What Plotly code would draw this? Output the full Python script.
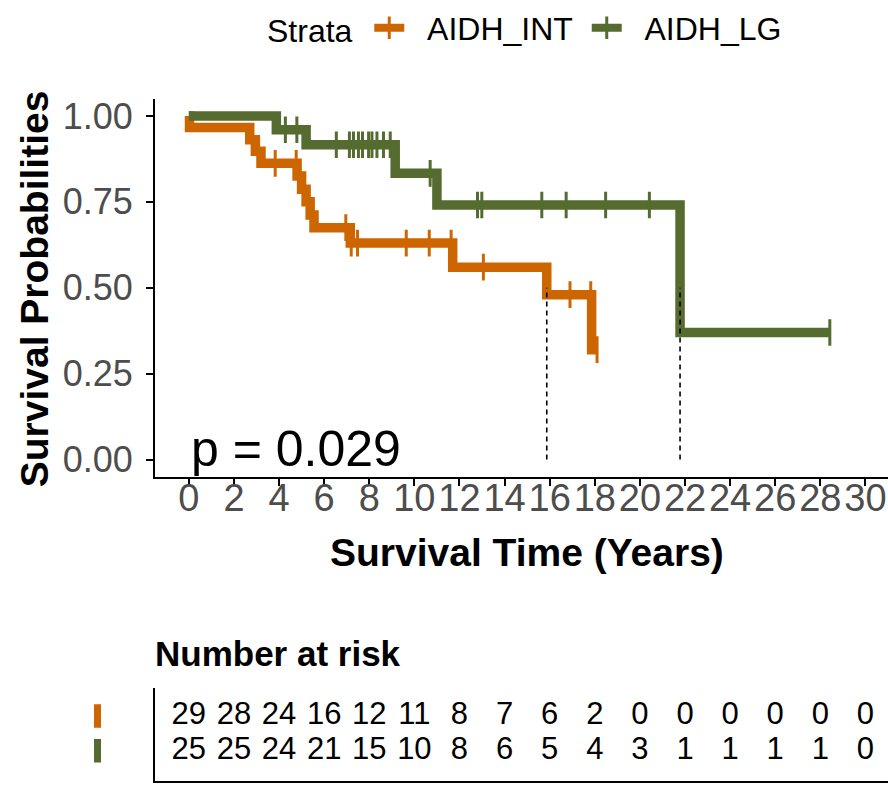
import plotly.graph_objects as go

W, H = 888, 785
FONT = "Liberation Sans, Arial, sans-serif"

# ---------------- data ----------------
strata = ["AIDH_INT", "AIDH_LG"]
colors = ["#CD6600", "#556B2F"]

# AIDH_INT : event times and survival after each event, censor times
int_event_times = [0.03, 2.70, 2.95, 3.20, 4.80, 5.00, 5.20, 5.38, 5.55, 7.16, 11.70, 15.87, 17.86]
int_event_surv = [0.966, 0.931, 0.897, 0.862, 0.825, 0.787, 0.750, 0.712, 0.675, 0.630, 0.560, 0.480, 0.320]
int_censor_times = [3.83, 4.76, 6.96, 7.20, 7.48, 9.64, 10.66, 11.63, 13.06, 16.90, 17.82, 18.10]

# AIDH_LG
lg_event_times = [3.88, 5.20, 9.15, 11.00, 21.78]
lg_event_surv = [0.960, 0.916, 0.833, 0.741, 0.370]
lg_censor_times = [4.28, 4.79, 6.54, 7.12, 7.30, 7.52, 7.70, 7.97, 8.12, 8.34, 8.63, 8.93,
                   10.70, 12.80, 12.99, 15.65, 16.73, 18.48, 20.42, 28.42]

# number at risk table
risk_times = [0, 2, 4, 6, 8, 10, 12, 14, 16, 18, 20, 22, 24, 26, 28, 30]
int_risk = [29, 28, 24, 16, 12, 11, 8, 7, 6, 2, 0, 0, 0, 0, 0, 0]
lg_risk = [25, 25, 24, 21, 15, 10, 8, 6, 5, 4, 3, 1, 1, 1, 1, 0]

x_ticks = list(range(0, 31, 2))
y_ticks = [0.0, 0.25, 0.5, 0.75, 1.0]
p_text = "p = 0.029"

groups = [
    (strata[0], colors[0], int_event_times, int_event_surv, int_censor_times, int_risk, 1),
    (strata[1], colors[1], lg_event_times, lg_event_surv, lg_censor_times, lg_risk, 0),
]


def surv_at(t, ev_t, ev_s):
    s = 1.0
    for et, es in zip(ev_t, ev_s):
        if et <= t:
            s = es
    return s


def px_x(p):
    return p / W


def px_y(p):
    return 1 - p / H


fig = go.Figure()

# step curves
for name, col, et, es, ct, rk, row in groups:
    end_t = max(ct + et)
    xs = [0.0] + et + [end_t]
    ys = [1.0] + es + [es[-1]]
    fig.add_trace(go.Scatter(x=xs, y=ys, mode="lines", line=dict(color=col, width=9.5, shape="hv"),
                             showlegend=False, hoverinfo="skip"))

# censor marks
for name, col, et, es, ct, rk, row in groups:
    fig.add_trace(go.Scatter(x=ct, y=[surv_at(t, et, es) for t in ct], mode="markers",
                             marker=dict(symbol="line-ns", size=19, color=col,
                                         line=dict(color=col, width=3)),
                             showlegend=False, hoverinfo="skip"))

# median lines
for name, col, et, es, ct, rk, row in groups:
    med = next(t for t, s in zip(et, es) if s <= 0.5)
    fig.add_trace(go.Scatter(x=[med, med], y=[0, 0.5], mode="lines",
                             line=dict(color="black", width=1.6, dash="5px,4px"),
                             showlegend=False, hoverinfo="skip"))

# legend entries
for i, (name, col, et, es, ct, rk, row) in enumerate(groups):
    label = "&nbsp;&nbsp;" + name + ("&nbsp;" if i == 0 else "")
    fig.add_trace(go.Scatter(x=[None], y=[None], mode="lines+markers", name=label,
                             line=dict(color=col, width=8),
                             marker=dict(symbol="line-ns", size=16, color=col,
                                         line=dict(color=col, width=3))))

# risk table
for name, col, et, es, ct, rk, row in groups:
    fig.add_trace(go.Scatter(x=risk_times, y=[row] * len(risk_times), text=[str(v) for v in rk],
                             mode="text", textfont=dict(family=FONT, size=31, color="black"),
                             xaxis="x2", yaxis="y2", showlegend=False, hoverinfo="skip"))

shapes = []
for name, col, et, es, ct, rk, row in groups:
    shapes.append(dict(type="rect", xref="paper", yref="y2", x0=px_x(94), x1=px_x(101),
                       y0=row - 0.34, y1=row + 0.34, fillcolor=col, line=dict(width=0)))

x_dom = [px_x(155), 1.0]
fig.update_layout(
    width=W, height=H,
    margin=dict(l=0, r=0, t=0, b=0),
    paper_bgcolor="white", plot_bgcolor="white",
    font=dict(family=FONT, color="black"),
    xaxis=dict(domain=x_dom, range=[-1.5, 31.0], tickvals=x_ticks, ticktext=[str(v) for v in x_ticks],
               showgrid=False, zeroline=False, showline=True, linecolor="black", linewidth=2,
               ticks="outside", ticklen=7, tickwidth=2, tickcolor="black", ticklabelstandoff=-20,
               tickfont=dict(family=FONT, size=38, color="#4D4D4D"), automargin=False, anchor="y"),
    yaxis=dict(domain=[px_y(476), px_y(97)], range=[-0.05, 1.05], tickvals=y_ticks,
               ticktext=["%.2f" % v for v in y_ticks],
               showgrid=False, zeroline=False, showline=True, linecolor="black", linewidth=2,
               ticks="outside", ticklen=7, tickwidth=2, tickcolor="black", ticklabelstandoff=6,
               tickfont=dict(family=FONT, size=36, color="#4D4D4D"), automargin=False, anchor="x"),
    xaxis2=dict(domain=x_dom, range=[-1.5, 31.0], showticklabels=False, ticks="", showgrid=False,
                zeroline=False, showline=True, linecolor="black", linewidth=2, anchor="y2",
                automargin=False),
    yaxis2=dict(domain=[px_y(781), px_y(688)], range=[-0.87, 1.8], showticklabels=False, ticks="",
                showgrid=False, zeroline=False, showline=True, linecolor="black", linewidth=2,
                anchor="x2", automargin=False),
    legend=dict(orientation="h", x=px_x(526), xanchor="center", y=px_y(26), yanchor="middle",
                title=dict(text="Strata&nbsp;", side="left", font=dict(family=FONT, size=32, color="black")),
                font=dict(family=FONT, size=32, color="black"), bgcolor="rgba(0,0,0,0)"),
    shapes=shapes,
    annotations=[
        dict(text=p_text, x=0, y=0.03, xref="x", yref="y", xanchor="left", yanchor="middle",
             showarrow=False, font=dict(family=FONT, size=50, color="black")),
        dict(text="<b>Survival Probabilities</b>", x=px_x(34), y=px_y(288), xref="paper", yref="paper",
             textangle=-90, showarrow=False, xanchor="center", yanchor="middle",
             font=dict(family=FONT, size=39, color="black")),
        dict(text="<b>Survival Time (Years)</b>", x=px_x(527), y=px_y(552), xref="paper", yref="paper",
             showarrow=False, xanchor="center", yanchor="middle",
             font=dict(family=FONT, size=39, color="black")),
        dict(text="<b>Number at risk</b>", x=px_x(153), y=px_y(653), xref="paper", yref="paper",
             showarrow=False, xanchor="left", yanchor="middle",
             font=dict(family=FONT, size=35, color="black")),
    ],
)

fig.write_html("out.html")
